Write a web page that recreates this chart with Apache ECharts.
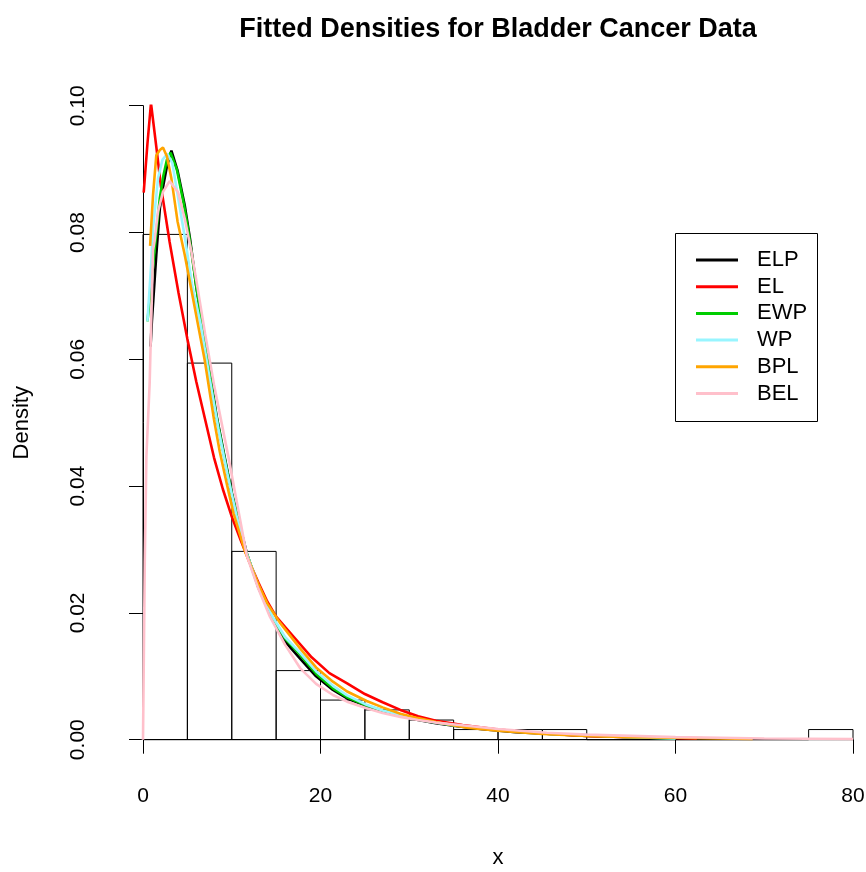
<!DOCTYPE html>
<html>
<head>
<meta charset="utf-8">
<title>Fitted Densities for Bladder Cancer Data</title>
<script src="https://cdn.jsdelivr.net/npm/echarts@6.0.0/dist/echarts.min.js"></script>
<style>
    html, body { margin: 0; padding: 0; background: #fff; }
    #chart { width: 866px; height: 872px; }
</style>
</head>
<body>
<div id="chart"></div>
<script>
// histogram: bin edges and density of each bin
var histBreaks = [0, 5, 10, 15, 20, 25, 30, 35, 40, 45, 50, 55, 60, 65, 70, 75, 80];
var histDensity = [0.0797, 0.0594, 0.0297, 0.0109, 0.00625, 0.0047, 0.0031, 0.0016,
    0.0016, 0.0016, 0, 0, 0, 0, 0, 0.0016];

// fitted curves
var elpX = [0.85, 1.0, 1.5, 1.9, 2.3, 2.7, 3.2, 3.9, 4.7, 5.3, 6, 7.3, 8.3, 9.2, 10, 11.7, 13, 14.6, 16, 17.7,
    19.5, 21.4, 23, 25.2, 27, 29, 31, 33, 35, 38, 42, 46, 50, 55, 60];
var elpY = [0.062, 0.066, 0.0765, 0.0838, 0.0875, 0.0905, 0.0929, 0.0897, 0.0843, 0.0790, 0.0715, 0.0599, 0.051,
    0.0446, 0.0390, 0.0294, 0.0240, 0.0189, 0.0155, 0.0128, 0.0100, 0.00784, 0.0065, 0.0053, 0.0045, 0.0038,
    0.0031, 0.0026, 0.0022, 0.0017, 0.0012, 0.0009, 0.0006, 0.0004, 0.0002];

var elX = [0.08, 0.5, 0.9, 1.5, 2, 3, 4, 5, 6, 7, 8, 9, 10, 11, 12, 13, 14, 15, 17, 19, 21, 23, 25, 27, 29, 31,
    33, 36, 40, 45, 50, 55, 62.4];
var elY = [0.0863, 0.094, 0.1004, 0.0935, 0.0875, 0.0785, 0.0705, 0.0632, 0.0565, 0.0505, 0.0445, 0.0395,
    0.0352, 0.0315, 0.0280, 0.0248, 0.0218, 0.0194, 0.0162, 0.0130, 0.0105, 0.0089, 0.0072, 0.0059, 0.0047,
    0.0037, 0.0030, 0.0023, 0.0016, 0.0010, 0.0006, 0.0004, 0.0002];

var ewpX = [0.5, 0.94, 1.5, 1.9, 2.3, 2.7, 3.1, 3.8, 4.6, 5.2, 6, 7.2, 8.2, 9.1, 10, 11.6, 13, 14.6, 16, 17.7,
    19.5, 21.4, 23, 25.2, 27, 29, 31, 33, 35, 38, 42, 46, 50, 55, 60];
var ewpY = [0.066, 0.072, 0.080, 0.0855, 0.089, 0.0915, 0.0926, 0.0900, 0.0845, 0.0795, 0.0715, 0.0605, 0.0515,
    0.0450, 0.0388, 0.0297, 0.0242, 0.0192, 0.0160, 0.0134, 0.0104, 0.0081, 0.0067, 0.0054, 0.0046, 0.0039,
    0.0032, 0.0027, 0.0023, 0.0018, 0.0013, 0.0009, 0.0007, 0.0004, 0.0002];

var wpX = [0.5, 0.94, 1.13, 1.7, 2.2, 2.75, 3.3, 4.1, 4.8, 5.5, 6.5, 7.5, 8.5, 9.5, 10.5, 11.6, 13, 14.6, 16,
    17.7, 19.5, 21.4, 23, 25.2, 27, 29, 31, 33, 35, 38, 42, 46, 50, 55, 60];
var wpY = [0.066, 0.0754, 0.0807, 0.0886, 0.0915, 0.0924, 0.0910, 0.0843, 0.0785, 0.0720, 0.0655, 0.0570,
    0.0490, 0.0420, 0.0355, 0.0297, 0.0243, 0.0194, 0.0162, 0.0137, 0.0108, 0.0085, 0.0070, 0.0055, 0.0046,
    0.0039, 0.0032, 0.0027, 0.0023, 0.0018, 0.0013, 0.0009, 0.0007, 0.0004, 0.0002];

var bplX = [0.8, 1.13, 1.5, 1.9, 2.25, 2.7, 3.2, 3.9, 4.7, 5.5, 6.95, 8.0, 8.64, 9.5, 10.2, 11.5, 13, 14, 15.4,
    17.7, 19.5, 21.4, 23, 25.2, 27, 29, 31, 33, 36.5, 40, 45, 50, 55, 60, 65, 68.7];
var bplY = [0.0779, 0.0859, 0.0922, 0.0930, 0.0934, 0.0920, 0.0885, 0.0817, 0.0765, 0.0706, 0.0599, 0.0505,
    0.0455, 0.0400, 0.0357, 0.0297, 0.0245, 0.0215, 0.0185, 0.0144, 0.0114, 0.00915, 0.0076, 0.0061, 0.0051,
    0.0041, 0.0034, 0.0028, 0.0019, 0.0014, 0.0009, 0.0006, 0.0004, 0.0003, 0.0002, 0.0001];

var belX = [0.0, 0.08, 0.2, 0.38, 0.75, 1.13, 1.3, 1.69, 2.25, 3.0, 3.94, 4.7, 5.45, 6.0, 7.0, 8.0, 9.6, 10.5,
    11.7, 13, 14.3, 16, 17.7, 19.5, 21.4, 23, 25.2, 27, 29, 31, 33, 36.5, 40, 45.5, 50, 55, 60, 65, 70, 75, 80];
var belY = [0, 0.011, 0.028, 0.0446, 0.0562, 0.0772, 0.0786, 0.0833, 0.0864, 0.0881, 0.0864, 0.0822, 0.0770,
    0.0725, 0.0640, 0.0560, 0.0448, 0.0380, 0.0290, 0.0238, 0.0194, 0.0150, 0.0113, 0.0088, 0.00705, 0.0060,
    0.00495, 0.0042, 0.0036, 0.0031, 0.0027, 0.0022, 0.0017, 0.0011, 0.0008, 0.0006, 0.0004, 0.0003, 0.0002,
    0.00015, 0.0001];

var curveNames = ['ELP', 'EL', 'EWP', 'WP', 'BPL', 'BEL'];
var curveColors = ['#000000', '#ff0000', '#00cd00', '#98f5ff', '#ffa500', '#ffc0cb'];
var xTicks = [0, 20, 40, 60, 80];
var yTicks = [0, 0.02, 0.04, 0.06, 0.08, 0.10];

var FONT = '"Liberation Sans", Arial, sans-serif';

function pairs(xs, ys) {
    var arr = [];
    for (var i = 0; i < xs.length; i++) {
        arr.push([xs[i], ys[i]]);
    }
    return arr;
}

function histData() {
    var arr = [];
    for (var i = 0; i < histDensity.length; i++) {
        arr.push([histBreaks[i], histBreaks[i + 1], histDensity[i]]);
    }
    return arr;
}

var curves = [pairs(elpX, elpY), pairs(elX, elY), pairs(ewpX, ewpY),
    pairs(wpX, wpY), pairs(bplX, bplY), pairs(belX, belY)];

var series = [{
    name: 'hist',
    type: 'custom',
    data: histData(),
    encode: { x: [0, 1], y: 2 },
    renderItem: function (params, api) {
        var p1 = api.coord([api.value(0), api.value(2)]);
        var p2 = api.coord([api.value(1), 0]);
        return {
            type: 'rect',
            shape: { x: p1[0], y: p1[1], width: p2[0] - p1[0], height: p2[1] - p1[1] },
            style: { fill: 'none', stroke: '#000', lineWidth: 1 }
        };
    },
    silent: true
}];

for (var i = 0; i < curves.length; i++) {
    series.push({
        name: curveNames[i],
        type: 'line',
        data: curves[i],
        showSymbol: false,
        symbol: 'none',
        color: curveColors[i],
        lineStyle: { color: curveColors[i], width: 2.6 },
        z: 3 + i
    });
}

var myChart = echarts.init(document.getElementById('chart'));
myChart.setOption({
    animation: false,
    backgroundColor: '#fff',
    title: {
        text: 'Fitted Densities for Bladder Cancer Data',
        left: 493,
        top: 11,
        textAlign: 'center',
        textStyle: { fontFamily: FONT, fontSize: 27, fontWeight: 'bold', color: '#000' }
    },
    grid: { left: 143, right: 13, top: 105.7, bottom: 132.3, outerBoundsMode: 'none', containLabel: false },
    xAxis: {
        type: 'value',
        min: xTicks[0],
        max: xTicks[xTicks.length - 1],
        interval: 20,
        offset: 25,
        name: 'x',
        nameLocation: 'middle',
        nameGap: 82,
        nameTextStyle: { fontFamily: FONT, fontSize: 22, color: '#000' },
        axisLine: { show: true, lineStyle: { color: '#000', width: 1 } },
        axisTick: { show: true, length: 14, lineStyle: { color: '#000' } },
        axisLabel: { fontFamily: FONT, fontSize: 21, color: '#000', margin: 21 },
        splitLine: { show: false }
    },
    yAxis: {
        type: 'value',
        min: yTicks[0],
        max: yTicks[yTicks.length - 1],
        interval: 0.02,
        offset: 29,
        name: 'Density',
        nameLocation: 'middle',
        nameGap: 81,
        nameTextStyle: { fontFamily: FONT, fontSize: 22, color: '#000' },
        axisLine: { show: true, lineStyle: { color: '#000', width: 1 } },
        axisTick: { show: true, length: 14, lineStyle: { color: '#000' } },
        axisLabel: {
            fontFamily: FONT, fontSize: 21, color: '#000', rotate: 90, margin: 25,
            formatter: function (v) { return v.toFixed(2); }
        },
        splitLine: { show: false }
    },
    legend: {
        data: curveNames,
        orient: 'vertical',
        left: 696,
        top: 249,
        padding: 0,
        icon: 'rect',
        itemWidth: 42,
        itemHeight: 3,
        itemGap: 4.7,
        textStyle: { fontFamily: FONT, fontSize: 22, lineHeight: 22, color: '#000', padding: [0, 0, 0, 14] },
        selectedMode: false
    },
    graphic: [{
        type: 'rect',
        shape: { x: 675.5, y: 233.5, width: 142, height: 188 },
        style: { fill: 'none', stroke: '#000', lineWidth: 1 },
        z: 100
    }],
    series: series
});
</script>
</body>
</html>
